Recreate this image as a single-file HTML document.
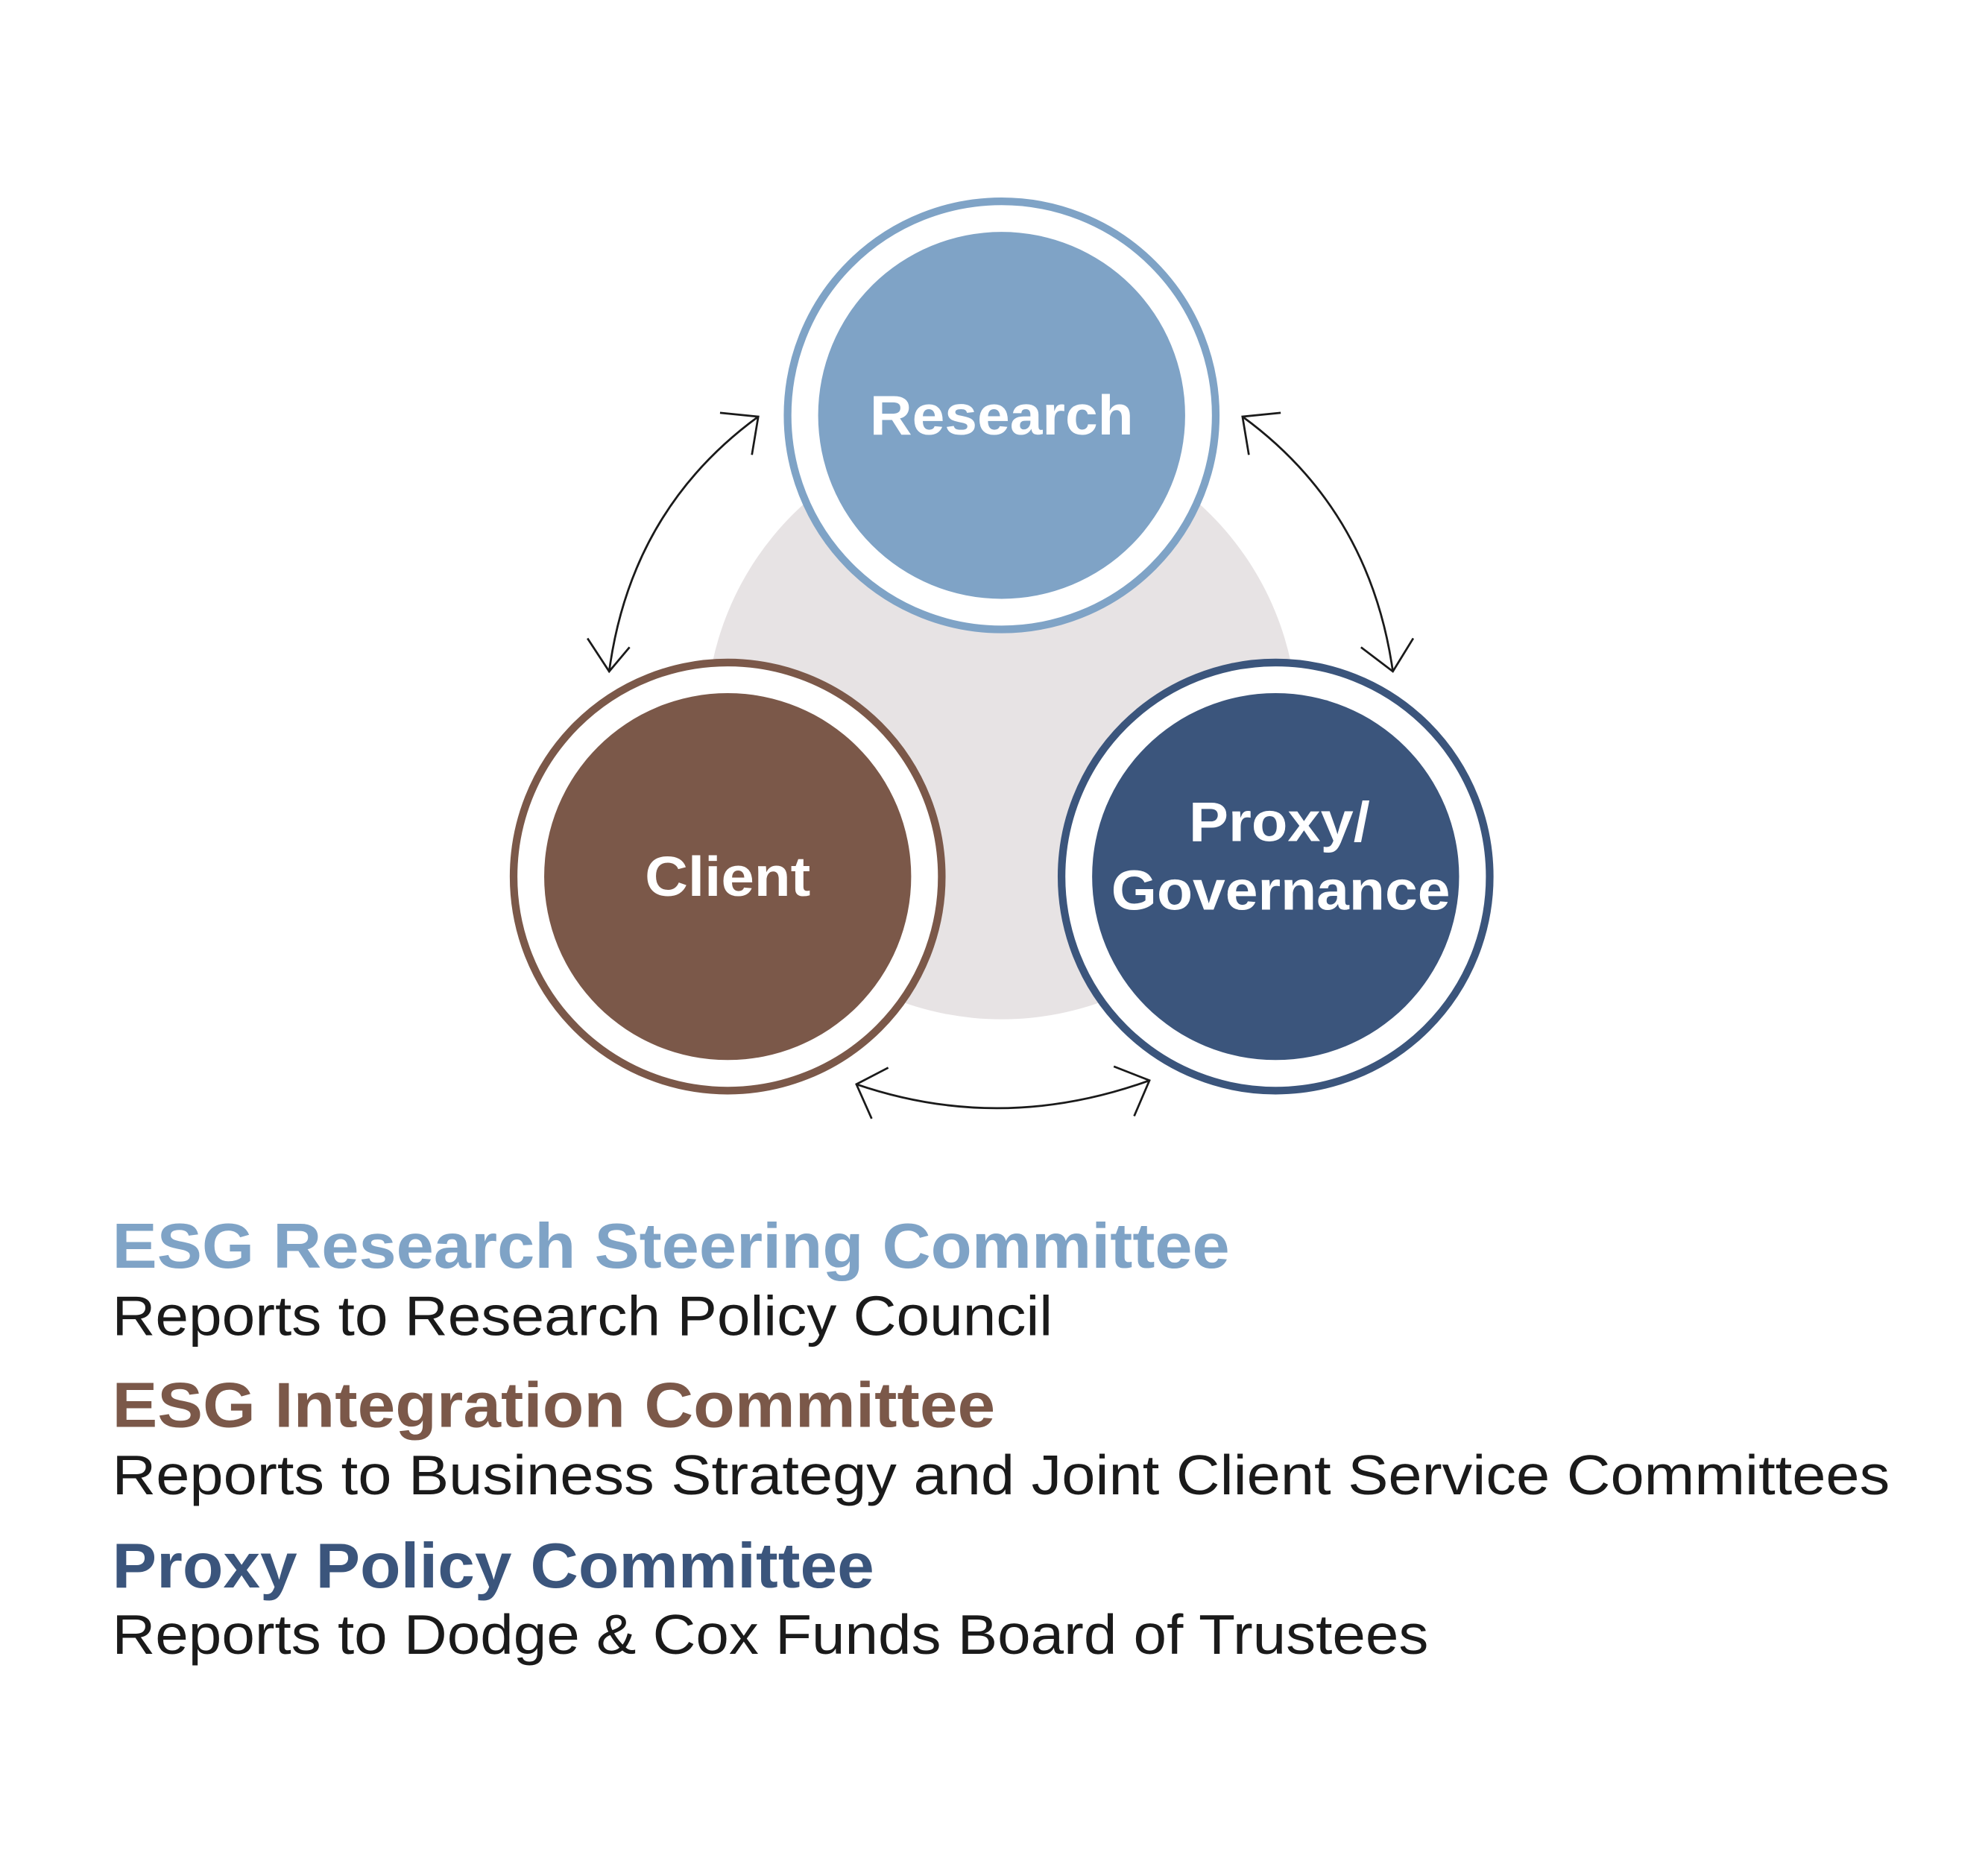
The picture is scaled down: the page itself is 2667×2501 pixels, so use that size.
<!DOCTYPE html>
<html><head><meta charset="utf-8"><style>
html,body{margin:0;padding:0;background:#fff;}
svg{display:block;}
</style></head><body>
<svg width="2667" height="2501" viewBox="0 0 1560 1463" xmlns="http://www.w3.org/2000/svg">
<rect width="1560" height="1463" fill="#fff"/>
<circle cx="786" cy="568" r="232" fill="#e7e3e4"/>
<!-- Research -->
<circle cx="786" cy="326" r="168" fill="#fff" stroke="#7fa3c6" stroke-width="6"/>
<circle cx="786" cy="326" r="144" fill="#7fa3c6"/>
<!-- Client -->
<circle cx="571" cy="688" r="168" fill="#fff" stroke="#7b5849" stroke-width="6"/>
<circle cx="571" cy="688" r="144" fill="#7b5849"/>
<!-- Proxy -->
<circle cx="1001" cy="688" r="168" fill="#fff" stroke="#3b557c" stroke-width="6"/>
<circle cx="1001" cy="688" r="144" fill="#3b557c"/>
<g font-family="Liberation Sans, sans-serif" font-weight="bold" fill="#fff" font-size="44" text-anchor="middle">
<text x="786" y="341" textLength="207" lengthAdjust="spacingAndGlyphs">Research</text>
<text x="571" y="703" textLength="130" lengthAdjust="spacingAndGlyphs">Client</text>
<text x="1004" y="660" textLength="142" lengthAdjust="spacingAndGlyphs">Proxy/</text>
<text x="1005" y="714" textLength="266" lengthAdjust="spacingAndGlyphs">Governance</text>
</g>
<!-- arrows -->
<g fill="none" stroke="#1a1a1a" stroke-width="1.6">
<path d="M595,327 Q495,400 478,527"/>
<path d="M565,324 L595,327 L590,357"/>
<path d="M461,501 L478,527 L494,508"/>
<path d="M975,327 Q1075,400 1093,527"/>
<path d="M1005,324 L975,327 L980,357"/>
<path d="M1109,501 L1093,527 L1068,508"/>
<path d="M672,851 Q786,890 902,848"/>
<path d="M697,838 L672,851 L684,878"/>
<path d="M874,837 L902,848 L890,876"/>
</g>
<g font-family="Liberation Sans, sans-serif">
<text x="88" y="995" font-size="50" font-weight="bold" fill="#7fa3c6" textLength="877" lengthAdjust="spacingAndGlyphs">ESG Research Steering Committee</text>
<text x="88" y="1048" font-size="44" fill="#1a1a1a" textLength="738" lengthAdjust="spacingAndGlyphs">Reports to Research Policy Council</text>
<text x="88" y="1120" font-size="50" font-weight="bold" fill="#7b5849" textLength="693" lengthAdjust="spacingAndGlyphs">ESG Integration Committee</text>
<text x="88" y="1173" font-size="44" fill="#1a1a1a" textLength="1395" lengthAdjust="spacingAndGlyphs">Reports to Business Strategy and Joint Client Service Committees</text>
<text x="88" y="1246" font-size="50" font-weight="bold" fill="#3b557c" textLength="598" lengthAdjust="spacingAndGlyphs">Proxy Policy Committee</text>
<text x="88" y="1298" font-size="44" fill="#1a1a1a" textLength="1033" lengthAdjust="spacingAndGlyphs">Reports to Dodge &amp; Cox Funds Board of Trustees</text>
</g>
</svg>
</body></html>
